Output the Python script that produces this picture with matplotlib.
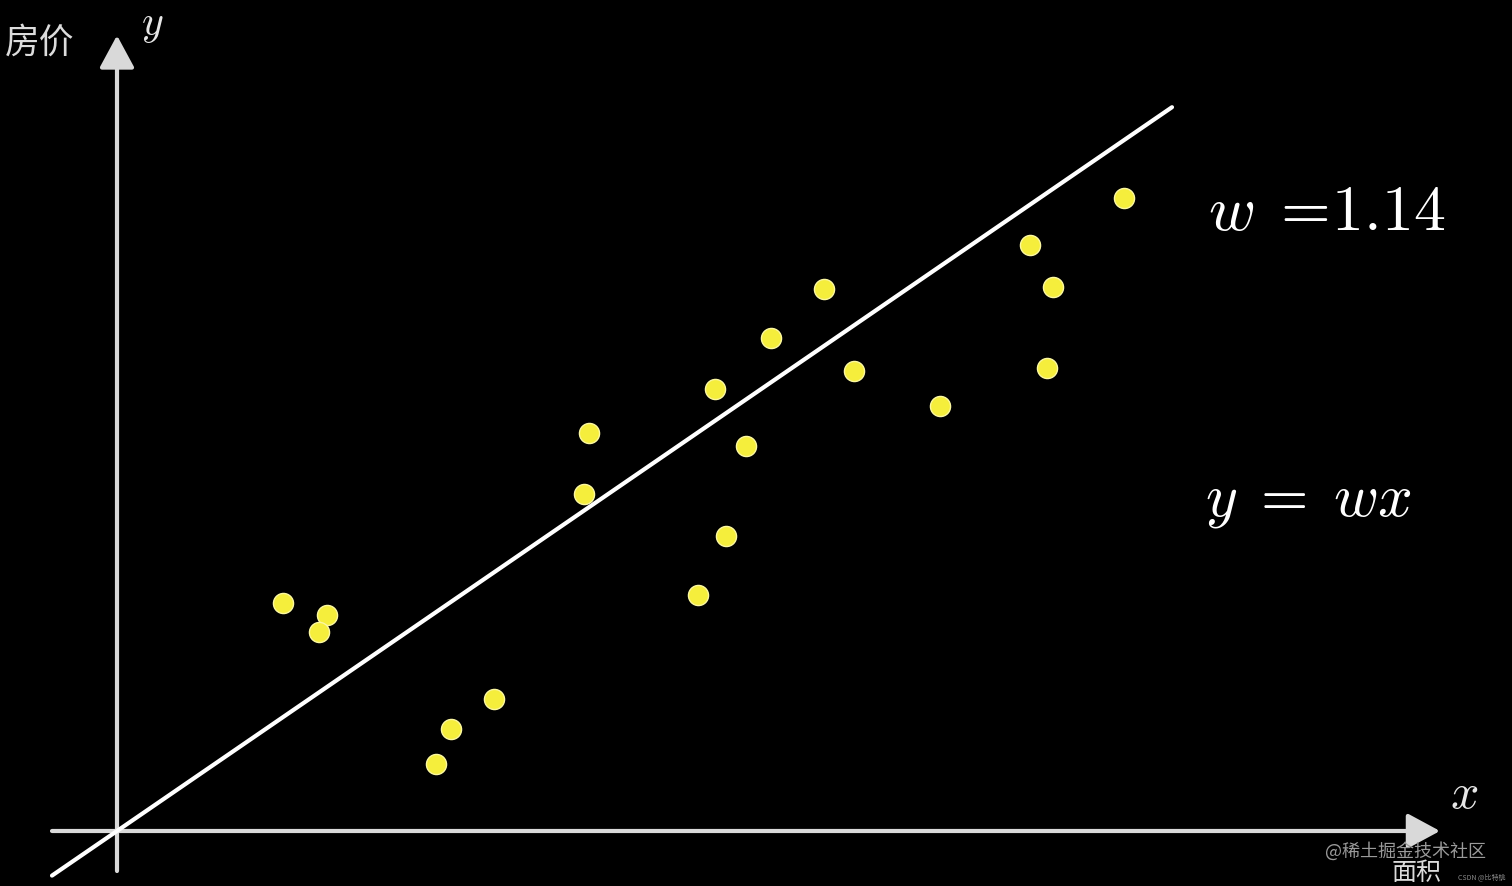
import matplotlib.pyplot as plt
import numpy as np

plt.rcParams['mathtext.fontset'] = 'cm'
plt.rcParams['font.family'] = ['Noto Sans CJK SC', 'DejaVu Sans']

# area (x) vs price (y)
area = [1.66, 2.10, 2.02, 3.19, 3.34, 3.77, 4.67, 4.72, 5.81, 6.09,
        5.98, 6.29, 6.54, 7.07, 7.37, 8.23, 9.13, 9.36, 9.30, 10.07]
price = [3.79, 3.59, 3.31, 1.11, 1.70, 2.19, 5.60, 6.61, 3.92, 4.90,
         7.34, 6.40, 8.19, 9.01, 7.64, 7.06, 9.74, 9.04, 7.69, 10.52]
w = 1.14
line_x = [-0.65, 10.55]

fig = plt.figure(figsize=(15.12, 8.87), dpi=100, facecolor='black')
ax = fig.add_axes([0, 0, 1, 1])
ax.set_facecolor('black')
ax.set_xlim(-1.17, 13.95)
ax.set_ylim(-0.914, 13.825)
ax.axis('off')

axis_col = '#d9d9d9'
arrow = dict(arrowstyle='-|>,head_length=0.5,head_width=0.27', lw=3,
             color=axis_col, mutation_scale=40, shrinkA=0, shrinkB=0)
ax.annotate('', xy=(13.23, 0), xytext=(-0.65, 0), arrowprops=arrow)
ax.annotate('', xy=(0, 13.22), xytext=(0, -0.665), arrowprops=arrow)

# fitted line y = w x
lx = np.array(line_x)
ax.plot(lx, w * lx, color='white', lw=3, solid_capstyle='round', zorder=3)

ax.scatter(area, price, s=210, color='#f5ee3c', edgecolors='#fbf7a0',
           linewidths=1, zorder=4)

# labels
fig.text(5 / 1512, 1 - 43 / 887, '房价', color='#dcdcdc', fontsize=25,
         va='center', ha='left')
fig.text(141 / 1512, 1 - 4 / 887, r'$y$', color='#e6e6e6', fontsize=30,
         va='top', ha='left')
fig.text(1450 / 1512, 1 - 808 / 887, r'$x$', color='#e6e6e6', fontsize=36,
         va='baseline', ha='left')
fig.text(1392 / 1512, 1 / 887, '面积', color='#dcdcdc', fontsize=18,
         va='bottom', ha='left')

fig.text(1208 / 1512, 1 - 230 / 887, r'$w\;=\!1.14$', color='white',
         fontsize=46, va='baseline', ha='left')
fig.text(1205 / 1512, 1 - 516 / 887, r'$y\;=\;wx$', color='white',
         fontsize=44, va='baseline', ha='left')

# watermarks
fig.text(1325 / 1512, 1 - 851 / 887, '@稀土掘金技术社区', color='#9a9a9a',
         fontsize=13, va='center', ha='left')
fig.text(1458 / 1512, 1 - 877 / 887, 'CSDN @比特桃', color='#8a8a8a',
         fontsize=5, va='center', ha='left')

fig.savefig('out.png', dpi=100, facecolor='black')
